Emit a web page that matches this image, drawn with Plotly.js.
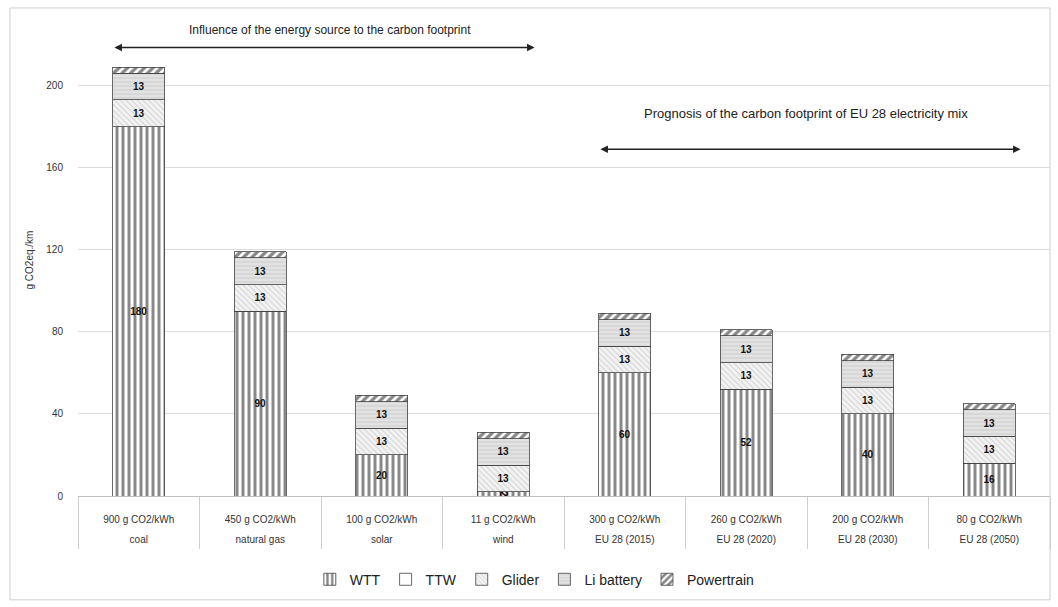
<!DOCTYPE html>
<html>
<head>
<meta charset="utf-8">
<script src="https://cdn.plot.ly/plotly-3.0.1.min.js"></script>
<style>html,body{margin:0;padding:0;background:#fff;}#chart{width:1058px;height:607px;}</style>
</head>
<body>
<div id="chart"></div>
<script>
const intensity = ["900 g CO2/kWh","450 g CO2/kWh","100 g CO2/kWh","11 g CO2/kWh","300 g CO2/kWh","260 g CO2/kWh","200 g CO2/kWh","80 g CO2/kWh"];
const sources = ["coal","natural gas","solar","wind","EU 28 (2015)","EU 28 (2020)","EU 28 (2030)","EU 28 (2050)"];
const categories = ["coal","natural gas","solar","wind","EU28-2015","EU28-2020","EU28-2030","EU28-2050"];
const wtt = [180, 90, 20, 2, 60, 52, 40, 16];
const ttw = [0, 0, 0, 0, 0, 0, 0, 0];
const glider = [13, 13, 13, 13, 13, 13, 13, 13];
const liBattery = [13, 13, 13, 13, 13, 13, 13, 13];
const powertrain = [3, 3, 3, 3, 3, 3, 3, 3];
const yTicks = [0, 40, 80, 120, 160, 200];

const FONT = "Liberation Sans, Arial, sans-serif";
const line = {color: "#444", width: 0.8};
const tf = {family: FONT, size: 10, color: "#111", weight: "bold"};

function bar(name, vals, pattern, showText) {
  const m = {color: pattern ? pattern.bgcolor : "#ffffff", line: line};
  if (pattern) m.pattern = pattern;
  return {
    type: "bar", name: name, x: categories, y: vals,
    text: showText ? vals.map(String) : vals.map(() => ""),
    textposition: "inside", insidetextanchor: "middle", constraintext: "none",
    textfont: tf, cliponaxis: false, hoverinfo: "skip",
    marker: m
  };
}

const traces = [
  bar("WTT", wtt, {shape: "|", size: 6, solidity: 0.5, fgcolor: "#111", bgcolor: "#ffffff", fillmode: "overlay"}, true),
  bar("TTW", ttw, null, false),
  bar("Glider", glider, {shape: "\\", size: 4, solidity: 0.25, fgcolor: "#aaaaaa", bgcolor: "#f3f3f3", fillmode: "overlay"}, true),
  bar("Li battery", liBattery, {shape: "-", size: 4, solidity: 0.25, fgcolor: "#b8b8b8", bgcolor: "#e2e2e2", fillmode: "overlay"}, true),
  bar("Powertrain", powertrain, {shape: "/", size: 6, solidity: 0.55, fgcolor: "#111", bgcolor: "#ffffff", fillmode: "overlay"}, false),
  {type: "scatter", mode: "none", x: categories, y: ttw, xaxis: "x2", yaxis: "y", showlegend: false, hoverinfo: "skip"}
];

const layout = {
  width: 1058, height: 607,
  margin: {l: 78, r: 8, t: 24, b: 111},
  paper_bgcolor: "#fff", plot_bgcolor: "#fff",
  barmode: "stack", bargap: 0.57,
  font: {family: FONT, size: 10, color: "#333"},
  showlegend: true,
  legend: {orientation: "h", x: 0.47, xanchor: "center", yref: "container", y: 0.045, yanchor: "middle",
           font: {family: FONT, size: 14, color: "#222"}, traceorder: "normal", itemwidth: 30},
  xaxis: {
    type: "category", automargin: false,
    tickmode: "array", tickvals: categories, ticktext: intensity,
    ticks: "outside", tickson: "boundaries", ticklen: 52, tickcolor: "#cfcfcf", tickwidth: 1,
    ticklabelstandoff: 14,
    showline: true, linecolor: "#bfbfbf", linewidth: 1,
    showgrid: false,
    tickfont: {family: FONT, size: 10, color: "#333"}
  },
  xaxis2: {
    type: "category", overlaying: "x", matches: "x", anchor: "y", side: "bottom", automargin: false,
    tickmode: "array", tickvals: categories, ticktext: sources,
    ticks: "", showline: false, showgrid: false, ticklabelstandoff: 36,
    tickfont: {family: FONT, size: 10, color: "#333"}
  },
  yaxis: {
    range: [0, 230], tickmode: "array", tickvals: yTicks, automargin: false,
    showgrid: true, gridcolor: "#dcdcdc", gridwidth: 1,
    zeroline: false, showline: false,
    ticks: "outside", ticklen: 12, tickcolor: "rgba(0,0,0,0)",
    tickfont: {family: FONT, size: 10, color: "#333"},
    title: {text: "g CO2eq./km", font: {family: FONT, size: 10, color: "#333"}, standoff: 10}
  },
  annotations: [
    {xref: "x", yref: "y", x: 1.57, y: 227, text: "Influence of the energy source to the carbon footprint",
     showarrow: false, font: {family: FONT, size: 12, color: "#222"}},
    {xref: "x", yref: "y", axref: "x", ayref: "y", x: -0.2, y: 218.5, ax: 3.27, ay: 218.5, text: "",
     showarrow: true, arrowhead: 2, arrowside: "end+start", arrowsize: 1, arrowwidth: 1.5, arrowcolor: "#222", standoff: 0, startstandoff: 0},
    {xref: "x", yref: "y", x: 5.49, y: 186.5, text: "Prognosis of the carbon footprint of EU 28 electricity mix",
     showarrow: false, font: {family: FONT, size: 13, color: "#222"}},
    {xref: "x", yref: "y", axref: "x", ayref: "y", x: 3.8, y: 169, ax: 7.27, ay: 169, text: "",
     showarrow: true, arrowhead: 2, arrowside: "end+start", arrowsize: 1, arrowwidth: 1.5, arrowcolor: "#222", standoff: 0, startstandoff: 0}
  ],
  shapes: [
    {type: "rect", xref: "paper", yref: "paper", x0: -0.07, x1: 1.0, y0: -0.22, y1: 1.034,
     line: {color: "#d0d0d0", width: 1}, fillcolor: "rgba(0,0,0,0)", layer: "below"}
  ]
};

Plotly.newPlot("chart", traces, layout, {displayModeBar: false, staticPlot: true});
</script>
</body>
</html>
